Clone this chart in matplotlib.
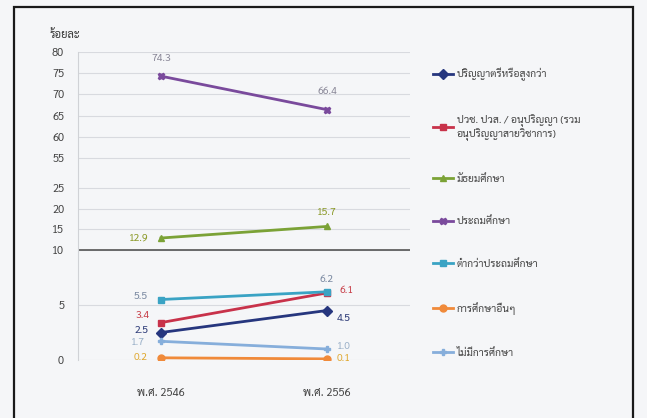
import numpy as np
import matplotlib
matplotlib.use("Agg")
import matplotlib.pyplot as plt
from matplotlib.patches import Rectangle

plt.rcParams["font.family"] = ["Sarabun", "DejaVu Sans"]

# ---- data -------------------------------------------------------------
years = ["พ.ศ. 2546", "พ.ศ. 2556"]
series_names = [
    "ปริญญาตรีหรือสูงกว่า",
    "ปวช. ปวส. / อนุปริญญา (รวม\nอนุปริญญาสายวิชาการ)",
    "มัธยมศึกษา",
    "ประถมศึกษา",
    "ต่ำกว่าประถมศึกษา",
    "การศึกษาอื่นๆ",
    "ไม่มีการศึกษา",
]
bachelor = [2.5, 4.5]
vocational = [3.4, 6.1]
secondary = [12.9, 15.7]
primary = [74.3, 66.4]
below_primary = [5.5, 6.2]
other_edu = [0.2, 0.1]
no_edu = [1.7, 1.0]
values = [bachelor, vocational, secondary, primary, below_primary, other_edu, no_edu]

yticks = [0, 5, 10, 15, 20, 25, 55, 60, 65, 70, 75, 80]

# ---- style ------------------------------------------------------------
colors = ["#26367e", "#c8324a", "#7ba236", "#7a4a9c", "#3aa3c4", "#f08a3a", "#86aedb"]
markers = ["D", "s", "^", "X", "s", "o", "P"]
lab_colors = ["#2d3b78", "#c8404a", "#8c9a2a", "#8a8898", "#7b8aa2", "#e0a830", "#9ab0c8"]
# offsets (points) for data labels at first / second category
offs = [
    [(-14, 1.5), (12, -6)],
    [(-13, 5), (14, 2)],
    [(-16, 0), (0, 10)],
    [(0, 13), (0, 13)],
    [(-15, 2), (0, 9)],
    [(-15, 0), (12, 0)],
    [(-17, -1), (12, 2)],
]

# broken y axis as a piecewise linear scale
YB = [0, 10, 25, 55, 80]
YP = [0, 110, 172, 202, 308]


def fwd(v):
    return np.interp(v, YB, YP)


def inv(p):
    return np.interp(p, YP, YB)


fig = plt.figure(figsize=(6.47, 4.18), dpi=100)
fig.patch.set_facecolor("#f5f6f8")
fig.patches.append(Rectangle((14 / 647, -10 / 418), 619 / 647, 421 / 418,
                             transform=fig.transFigure, fill=False,
                             edgecolor="#1a1a1a", lw=1.6))

ax = fig.add_axes([78 / 647, 58 / 418, 332 / 647, 308 / 418])
ax.set_facecolor("#f5f6f8")
ax.set_yscale("function", functions=(fwd, inv))
ax.set_ylim(0, 80)
ax.set_xlim(-0.5, 1.5)
x = np.arange(len(years))

for name, vals, c, m, lc, off in zip(series_names, values, colors, markers, lab_colors, offs):
    ax.plot(x, vals, color=c, marker=m, ms=5, lw=2, label=name)
    for xi, v, o in zip(x, vals, off):
        ax.annotate(f"{v:.1f}", (xi, v), xytext=o, textcoords="offset points",
                    ha="center", va="center", fontsize=7.5, color=lc)

ax.set_yticks(yticks)
ax.set_yticklabels([str(t) for t in yticks])
ax.set_xticks(x)
ax.set_xticklabels(years)
ax.grid(axis="y", color="#d8dadf", lw=0.8)
ax.set_axisbelow(True)
ax.axhline(10, color="#555555", lw=1.2, zorder=1)
for s in ("top", "right", "bottom"):
    ax.spines[s].set_visible(False)
ax.spines["left"].set_color("#d0d2d6")
ax.tick_params(axis="both", length=0, labelsize=8, colors="#444444", pad=10)
ax.tick_params(axis="x", pad=20)

fig.text(50 / 647, 1 - 36 / 418, "ร้อยละ", fontsize=8, color="#333333",
         ha="left", va="center")

ax.legend(loc="upper left", bbox_to_anchor=(1.04, 0.98), frameon=False,
          fontsize=7.5, labelspacing=3.15, handlelength=2, handletextpad=0.3,
          labelcolor="#444444")

fig.savefig("out.png", dpi=100, facecolor=fig.get_facecolor())
